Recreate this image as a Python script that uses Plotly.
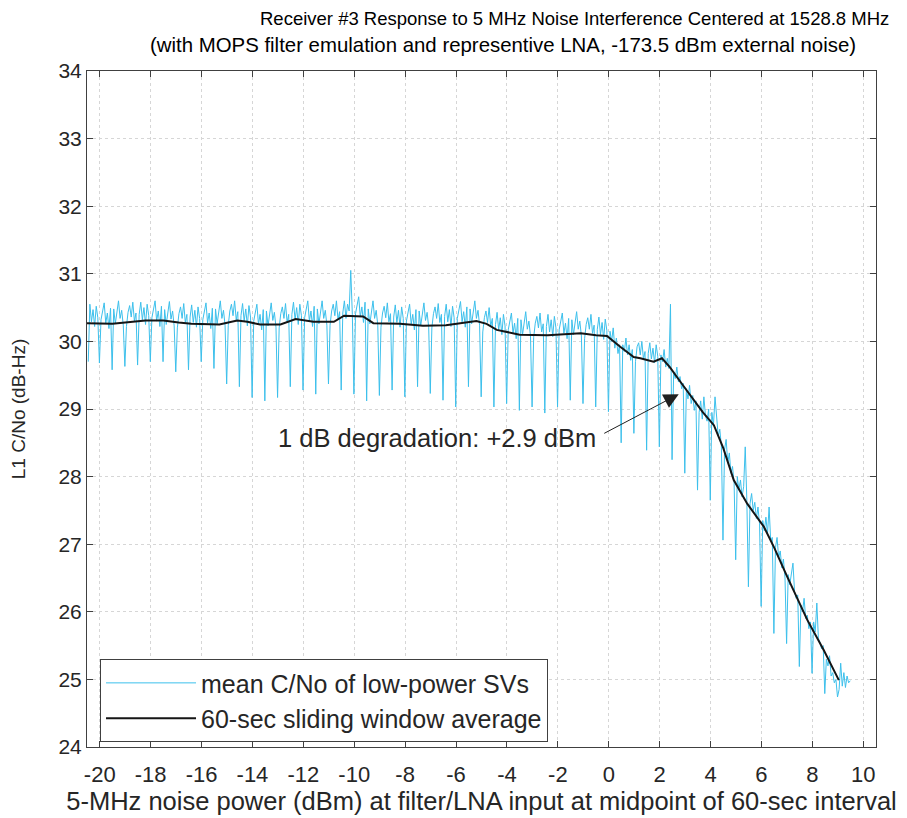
import plotly.graph_objects as go

# ---------------- data ----------------
title_main = "Receiver #3 Response to 5 MHz Noise Interference Centered at 1528.8 MHz"
title_sub = "(with MOPS filter emulation and representive LNA, -173.5 dBm external noise)"
x_title = "5-MHz noise power (dBm) at filter/LNA input at midpoint of 60-sec interval"
y_title = "L1 C/No (dB-Hz)"
series_names = ["mean C/No of low-power SVs", "60-sec sliding window average"]
annotation_text = "1 dB degradation: +2.9 dBm"
degradation_point = (2.75, 29.22)

x_tickvals = [-20, -18, -16, -14, -12, -10, -8, -6, -4, -2, 0, 2, 4, 6, 8, 10]
x_ticktext = ["-20", "-18", "-16", "-14", "-12", "-10", "-8", "-6", "-4", "-2",
              "0", "2", "4", "6", "8", "10"]
y_tickvals = [24, 25, 26, 27, 28, 29, 30, 31, 32, 33, 34]

# mean C/No samples (8 samples per 0.5-dB power step)
cn0_start_dbm = -20.45
cn0_sample_step_db = 0.0625
mean_cn0_rows = [
    [29.70, 30.55, 30.29, 30.47, 30.22, 30.52, 30.35, 29.68],
    [30.32, 30.45, 30.57, 30.27, 30.42, 30.19, 30.49, 29.58],
    [30.48, 30.26, 30.40, 30.60, 30.34, 30.46, 30.24, 29.63],
    [30.22, 30.43, 30.53, 30.36, 30.58, 30.30, 30.42, 29.65],
    [30.40, 30.58, 30.32, 30.50, 30.25, 30.55, 30.38, 29.70],
    [30.35, 30.48, 30.60, 30.30, 30.45, 30.22, 30.52, 29.70],
    [30.47, 30.25, 30.39, 30.59, 30.33, 30.45, 30.23, 29.55],
    [30.20, 30.41, 30.51, 30.34, 30.56, 30.28, 30.40, 29.58],
    [30.36, 30.54, 30.28, 30.46, 30.21, 30.51, 30.34, 29.70],
    [30.32, 30.45, 30.57, 30.27, 30.42, 30.19, 30.49, 29.60],
    [30.48, 30.26, 30.40, 30.60, 30.34, 30.46, 30.24, 29.37],
    [30.24, 30.45, 30.55, 30.38, 30.60, 30.32, 30.44, 29.33],
    [30.38, 30.56, 30.30, 30.48, 30.23, 30.53, 30.36, 29.17],
    [30.30, 30.43, 30.55, 30.25, 30.40, 30.17, 30.47, 29.12],
    [30.45, 30.23, 30.37, 30.57, 30.31, 30.43, 30.21, 29.17],
    [30.20, 30.41, 30.51, 30.34, 30.56, 30.28, 30.40, 29.33],
    [30.40, 30.58, 30.32, 30.50, 30.25, 30.55, 30.38, 29.28],
    [30.35, 30.48, 30.60, 30.30, 30.45, 30.22, 30.52, 29.22],
    [30.48, 30.26, 30.40, 30.60, 30.34, 30.46, 30.24, 29.37],
    [30.24, 30.45, 30.55, 30.38, 30.60, 30.32, 30.44, 29.28],
    [30.42, 30.60, 30.34, 30.55, 30.45, 31.05, 30.40, 29.22],
    [30.41, 30.54, 30.66, 30.36, 30.51, 30.28, 30.58, 29.12],
    [30.48, 30.26, 30.40, 30.60, 30.34, 30.46, 30.24, 29.20],
    [30.21, 30.42, 30.52, 30.35, 30.57, 30.29, 30.41, 29.28],
    [30.36, 30.54, 30.28, 30.46, 30.21, 30.51, 30.34, 29.18],
    [30.30, 30.43, 30.55, 30.25, 30.40, 30.17, 30.47, 29.33],
    [30.45, 30.23, 30.37, 30.57, 30.31, 30.43, 30.21, 29.23],
    [30.20, 30.41, 30.51, 30.34, 30.56, 30.28, 30.40, 29.13],
    [30.37, 30.55, 30.29, 30.47, 30.22, 30.52, 30.35, 29.03],
    [30.34, 30.47, 30.59, 30.29, 30.44, 30.21, 30.51, 29.33],
    [30.48, 30.26, 30.40, 30.60, 30.34, 30.46, 30.24, 29.18],
    [30.14, 30.35, 30.45, 30.28, 30.50, 30.22, 30.34, 29.03],
    [30.25, 30.43, 30.17, 30.35, 30.10, 30.40, 30.23, 29.08],
    [30.17, 30.30, 30.42, 30.12, 30.27, 30.04, 30.34, 28.98],
    [30.32, 30.10, 30.24, 30.44, 30.18, 30.30, 30.08, 29.03],
    [30.06, 30.27, 30.37, 30.20, 30.42, 30.14, 30.26, 28.94],
    [30.22, 30.40, 30.14, 30.32, 30.07, 30.37, 30.20, 29.03],
    [30.17, 30.30, 30.42, 30.12, 30.27, 30.04, 30.34, 29.13],
    [30.32, 30.10, 30.24, 30.44, 30.18, 30.30, 30.08, 29.08],
    [30.04, 30.25, 30.35, 30.18, 30.40, 30.12, 30.24, 29.03],
    [30.18, 30.36, 30.10, 30.28, 30.03, 30.33, 30.16, 28.96],
    [30.15, 30.00, 30.20, 29.90, 30.05, 29.82, 29.95, 28.50],
    [29.95, 29.85, 30.05, 29.80, 29.95, 29.72, 29.88, 28.64],
    [29.70, 29.92, 29.98, 29.80, 30.00, 29.74, 29.85, 28.39],
    [29.82, 29.98, 29.74, 29.90, 29.68, 29.95, 29.78, 28.44],
    [29.80, 29.70, 29.88, 29.62, 29.75, 29.60, 30.55, 28.25],
    [29.55, 29.45, 29.62, 29.40, 29.48, 29.30, 29.38, 28.05],
    [29.30, 29.15, 29.35, 29.08, 29.20, 28.98, 29.12, 27.80],
    [28.95, 29.12, 28.85, 29.18, 28.90, 28.82, 29.00, 27.65],
    [28.95, 28.75, 29.18, 28.85, 28.60, 28.70, 28.45, 27.06],
    [28.40, 28.55, 28.20, 28.35, 28.05, 28.15, 27.90, 26.77],
    [28.00, 27.80, 27.95, 27.70, 27.85, 28.44, 27.65, 26.37],
    [27.60, 27.75, 27.50, 27.62, 27.38, 27.55, 27.30, 26.08],
    [27.35, 27.20, 27.40, 27.15, 27.55, 27.05, 27.10, 25.68],
    [26.95, 27.10, 26.80, 26.90, 26.65, 26.78, 26.50, 25.53],
    [26.55, 26.40, 26.60, 26.72, 26.30, 26.20, 26.25, 25.19],
    [26.10, 26.00, 26.20, 25.90, 25.95, 25.75, 25.85, 25.09],
    [25.85, 25.70, 26.13, 25.60, 25.55, 25.45, 25.50, 24.79],
    [25.30, 25.20, 25.35, 25.05, 25.10, 24.95, 25.00, 24.74],
    [24.85, 25.24, 24.90, 25.10, 24.88, 25.05, 24.95, 24.98],
]

# 60-sec sliding window average
avg_x = [-20.5, -19.5, -18.2, -17.5, -16.9, -16.4, -15.3, -14.6, -14.2, -13.7,
         -12.9, -12.3, -11.6, -10.8, -10.4, -9.65, -9.25, -9.0, -8.2, -7.3,
         -6.4, -5.2, -4.8, -4.4, -3.5, -2.4, -1.1, -0.5, -0.07, 0.45,
         0.98, 1.24, 1.76, 2.09, 2.4, 2.82, 3.34, 3.7, 4.13, 4.5,
         4.91, 5.44, 6.09, 6.5, 7.01, 7.4, 7.8, 8.45, 9.04]
avg_y = [30.27, 30.26, 30.31, 30.31, 30.28, 30.26, 30.25, 30.31, 30.29, 30.25,
         30.25, 30.33, 30.29, 30.29, 30.38, 30.37, 30.27, 30.27, 30.26, 30.23,
         30.24, 30.30, 30.26, 30.17, 30.10, 30.09, 30.12, 30.09, 30.08, 29.92,
         29.77, 29.75, 29.70, 29.75, 29.62, 29.40, 29.13, 28.95, 28.76, 28.42,
         27.95, 27.60, 27.26, 26.95, 26.52, 26.20, 25.88, 25.43, 24.99]

# ---------------- build ----------------
cn0_y = [v for row in mean_cn0_rows for v in row]
cn0_x = [cn0_start_dbm + i * cn0_sample_step_db for i in range(len(cn0_y))]

FONT = "Liberation Sans, Arial, Helvetica, sans-serif"
TXT = "#262626"

fig = go.Figure()
fig.add_trace(go.Scatter(x=cn0_x, y=cn0_y, mode="lines", name=series_names[0],
                         line=dict(color="#3cc0ec", width=1)))
fig.add_trace(go.Scatter(x=avg_x, y=avg_y, mode="lines", name=series_names[1],
                         line=dict(color="#151515", width=2)))

axis_common = dict(showline=True, linecolor="#404040", linewidth=1, mirror="ticks",
                   ticks="inside", ticklen=6, tickcolor="#404040", automargin=False,
                   showgrid=True, gridcolor="#d6d6d6", griddash="dot", gridwidth=1,
                   zeroline=False)

fig.update_xaxes(range=[-20.5, 10.5], tickvals=x_tickvals, ticktext=x_ticktext,
                 tickfont=dict(family=FONT, size=22, color=TXT), ticklabelstandoff=8,
                 title=dict(text=x_title, font=dict(family=FONT, size=25.5, color=TXT),
                            standoff=3),
                 **axis_common)
fig.update_yaxes(range=[24, 34], tickvals=y_tickvals,
                 tickfont=dict(family=FONT, size=21, color=TXT),
                 title=dict(text=y_title, font=dict(family=FONT, size=19, color=TXT),
                            standoff=28),
                 **axis_common)

fig.update_layout(
    width=899, height=810,
    margin=dict(l=79, r=31, t=63, b=71),
    paper_bgcolor="white", plot_bgcolor="white",
    font=dict(family=FONT, color=TXT),
    showlegend=True,
    legend=dict(x=0.0165, y=0.130, xanchor="left", yanchor="top",
                bgcolor="white", bordercolor="#404040", borderwidth=1,
                font=dict(family=FONT, size=25, color=TXT),
                itemwidth=90, tracegroupgap=0),
    annotations=[
        dict(text=title_main, xref="paper", yref="paper", x=0.2167, y=1.0,
             yshift=53, xanchor="left", yanchor="middle", showarrow=False,
             font=dict(family=FONT, size=18.5, color="#000000")),
        dict(text=title_sub, xref="paper", yref="paper", x=0.527, y=1.0,
             yshift=26, xanchor="center", yanchor="middle", showarrow=False,
             font=dict(family=FONT, size=20.4, color="#000000")),
        dict(text=annotation_text, x=-6.74, y=28.57, xref="x", yref="y",
             showarrow=False, font=dict(family=FONT, size=25.5, color=TXT)),
        dict(text="", x=degradation_point[0], y=degradation_point[1], xref="x", yref="y",
             showarrow=True, ax=-76, ay=40, arrowhead=2, arrowsize=3,
             arrowwidth=1, arrowcolor="#202020"),
    ],
)

fig.write_html("out.html")
